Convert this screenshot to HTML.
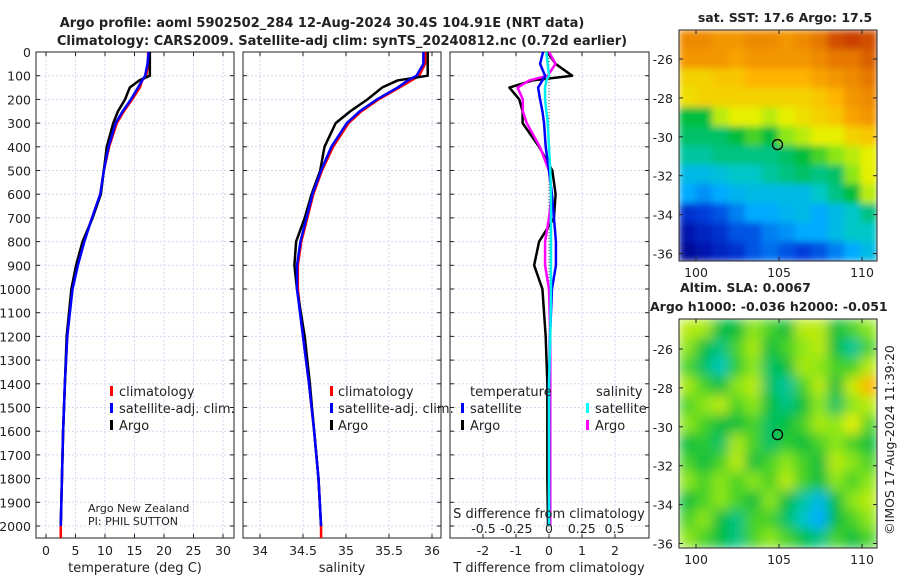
<!DOCTYPE html>
<html><head><meta charset="utf-8"><style>
body{margin:0;background:#fff;width:900px;height:580px;overflow:hidden;font-family:"Liberation Sans","DejaVu Sans",sans-serif}
svg text{font-family:"DejaVu Sans","Liberation Sans",sans-serif;fill:#222}
</style></head><body>
<svg id="fig" width="900" height="580" viewBox="0 0 900 580" xmlns="http://www.w3.org/2000/svg">
<defs>
<filter id="blur1" x="-5%" y="-5%" width="110%" height="110%"><feGaussianBlur stdDeviation="3.5" edgeMode="duplicate"/></filter>
<filter id="blur2" x="-5%" y="-5%" width="110%" height="110%"><feGaussianBlur stdDeviation="6" edgeMode="duplicate"/></filter>
<clipPath id="clip1"><rect x="679" y="30" width="198" height="231"/></clipPath>
<clipPath id="clip2"><rect x="679" y="319" width="198" height="229"/></clipPath>
</defs>
<text x="322" y="27" font-size="13" font-weight="bold" text-anchor="middle">Argo profile: aoml 5902502_284 12-Aug-2024 30.4S 104.91E (NRT data)</text>
<text x="342" y="45" font-size="13" font-weight="bold" text-anchor="middle">Climatology: CARS2009. Satellite-adj clim: synTS_20240812.nc (0.72d earlier)</text>
<g id="g"></g>
</svg>
<script>
const depths=[0,50,100,120,150,200,250,300,400,500,600,700,800,900,1000,1200,1400,1600,1800,2000];
const tClim=[17.3,17.3,17.0,16.3,15.9,14.6,13.2,12.0,10.7,9.8,9.2,7.8,6.4,5.3,4.4,3.6,3.2,2.9,2.7,2.5];
const tSat=[17.4,17.2,16.8,16.3,15.6,14.4,13.0,11.8,10.6,9.8,9.2,7.8,6.5,5.4,4.5,3.6,3.2,2.9,2.7,2.5];
const tArgo=[17.6,17.6,17.6,15.8,14.2,13.4,12.2,11.4,10.3,9.8,9.3,7.9,6.2,5.1,4.3,3.5,3.2,2.9,2.7,2.5];
const sClim=[35.92,35.92,35.85,35.76,35.62,35.38,35.18,35.03,34.85,34.72,34.62,34.55,34.48,34.44,34.44,34.5,34.57,34.63,34.68,34.71];
const sSat=[35.9,35.9,35.82,35.72,35.6,35.36,35.16,35.01,34.83,34.71,34.61,34.54,34.47,34.43,34.43,34.5,34.57,34.63,34.68,34.71];
const sArgo=[35.95,35.95,35.95,35.6,35.42,35.25,35.05,34.88,34.75,34.7,34.6,34.52,34.42,34.4,34.43,34.52,34.58,34.63,34.68,34.71];
const dTargo=[-0.05,0.2,0.7,-0.5,-1.2,-0.9,-0.8,-0.8,-0.3,0.1,0.2,0.15,-0.3,-0.45,-0.2,-0.1,-0.05,-0.05,-0.05,-0.03];
const dTsat=[-0.18,-0.27,-0.12,-0.2,-0.33,-0.27,-0.2,-0.15,-0.1,0.0,0.09,0.15,0.21,0.21,0.09,0.03,0.0,0.0,0.0,0.0];
const dSargo=[0.0,0.05,-0.01,-0.15,-0.24,-0.2,-0.2,-0.17,-0.07,0.0,0.02,0.0,-0.03,-0.03,0.0,0.01,0.01,0.01,0.01,0.01];
const dSsat=[-0.02,-0.01,0.0,-0.02,-0.03,-0.03,-0.02,-0.01,0.0,0.01,0.015,0.015,0.015,0.015,0.015,0.01,0.0,0.0,0.0,0.0];
const yTicks=[0,100,200,300,400,500,600,700,800,900,1000,1100,1200,1300,1400,1500,1600,1700,1800,1900,2000];
const tTicks=[0,5,10,15,20,25,30];
const sTicks=[34,34.5,35,35.5,36];
const dTTicks=[-2,-1,0,1,2];
const dSTicks=[-0.5,-0.25,0,0.25,0.5];
const sstGrid=[
[.82,.82,.8,.8,.82,.82,.8,.82,.85,.9,.92,.9],
[.8,.8,.8,.78,.8,.8,.8,.8,.82,.85,.85,.88],
[.7,.7,.72,.72,.75,.75,.75,.75,.78,.8,.82,.85],
[.68,.7,.7,.7,.7,.7,.7,.7,.72,.75,.8,.82],
[.45,.45,.6,.65,.65,.6,.65,.68,.7,.72,.78,.8],
[.42,.42,.42,.45,.5,.45,.55,.6,.65,.65,.7,.72],
[.38,.38,.4,.4,.4,.4,.42,.45,.5,.55,.6,.65],
[.3,.3,.32,.35,.35,.38,.4,.42,.4,.42,.55,.65],
[.25,.22,.25,.28,.3,.3,.3,.3,.35,.4,.45,.6],
[.1,.12,.15,.2,.25,.25,.28,.3,.25,.3,.35,.4],
[.05,.08,.1,.15,.15,.2,.22,.25,.25,.3,.35,.35],
[.02,.05,.08,.1,.15,.18,.15,.12,.15,.2,.25,.3]];
const slaGrid=[
[.6,.58,.45,.45,.55,.5,.45,.6,.6,.45,.5,.55],
[.55,.45,.4,.5,.58,.45,.5,.55,.6,.45,.38,.5],
[.5,.42,.36,.48,.55,.42,.45,.58,.55,.5,.5,.6],
[.58,.5,.45,.55,.6,.42,.38,.5,.6,.45,.62,.75],
[.5,.55,.6,.5,.55,.45,.4,.45,.55,.42,.55,.6],
[.55,.5,.45,.45,.5,.42,.45,.5,.58,.55,.65,.5],
[.45,.48,.42,.58,.5,.42,.48,.45,.5,.55,.5,.45],
[.5,.45,.5,.6,.45,.5,.55,.5,.45,.6,.55,.5],
[.55,.5,.55,.5,.55,.5,.6,.5,.45,.55,.5,.55],
[.45,.5,.55,.5,.45,.55,.45,.38,.3,.45,.55,.6],
[.5,.55,.45,.4,.5,.5,.42,.35,.25,.45,.5,.55],
[.55,.5,.45,.4,.5,.55,.5,.45,.4,.5,.45,.5]];
const lonTicks=[100,105,110];
const latTicks=[-26,-28,-30,-32,-34,-36];

const NS="http://www.w3.org/2000/svg";
const G=document.getElementById('g');
function mk(tag,at,parent){const e=document.createElementNS(NS,tag);for(const k in at)e.setAttribute(k,at[k]);(parent||G).appendChild(e);return e;}
function txt(s,x,y,size,anchor,parent){const t=mk('text',{x:x,y:y,'font-size':size,'text-anchor':anchor||'middle'},parent);t.textContent=s;return t;}
const Y0=52,Y1=538;
const yS=d=>52+d*0.237;

function panel(name,x0,x1,xs,xticks){
  const g=mk('g',{});
  
  
  xticks.forEach(v=>mk('line',{x1:xs(v),x2:xs(v),y1:Y0,y2:Y1,stroke:'#d3d8f2','stroke-width':1,'stroke-dasharray':'2,2'},g));
  yTicks.forEach(v=>mk('line',{x1:x0,x2:x1,y1:yS(v),y2:yS(v),stroke:'#d3d8f2','stroke-width':1,'stroke-dasharray':'2,2'},g));
  mk('rect',{x:x0,y:Y0,width:x1-x0,height:Y1-Y0,fill:'none',stroke:'#222','stroke-width':1},g);
  yTicks.forEach(v=>{mk('line',{x1:x0,x2:x0+4,y1:yS(v),y2:yS(v),stroke:'#222'},g);mk('line',{x1:x1-4,x2:x1,y1:yS(v),y2:yS(v),stroke:'#222'},g);});
  xticks.forEach(v=>{mk('line',{x1:xs(v),x2:xs(v),y1:Y1,y2:Y1-4,stroke:'#222'},g);mk('line',{x1:xs(v),x2:xs(v),y1:Y0,y2:Y0+4,stroke:'#222'},g);});
  return g;
}
function line(g,name,xs,vals,color,w){
  const p=mk('polyline',{points:vals.map((v,i)=>xs(v)+','+yS(depths[i])).join(' '),fill:'none',stroke:color,'stroke-width':w||2.5,'stroke-linejoin':'round'},g);
  
  
  return p;
}
const xT=v=>46+v*5.9;
const g1=panel('temperature-panel',36,234,xT,tTicks);
tTicks.forEach(v=>txt(String(v),xT(v),555,12.5,'middle',g1));
yTicks.forEach(v=>txt(String(v),31,yS(v)+5,12.5,'end',g1));
txt('temperature (deg C)',135,572,13,'middle',g1);
line(g1,'temperature-climatology-line',xT,tClim,'#f00');
mk('line',{x1:xT(2.5),x2:xT(2.5),y1:yS(2000),y2:Y1,stroke:'#f00','stroke-width':2.5},g1);
line(g1,'temperature-argo-line',xT,tArgo,'#000');
line(g1,'temperature-satellite-line',xT,tSat,'#00f');
[['#f00','climatology',391],['#00f','satellite-adj. clim.',408],['#000','Argo',425]].forEach(l=>{const r=mk('rect',{x:110,y:l[2]-5,width:3,height:10,fill:l[0]},g1);txt(l[1],119,l[2]+5,13,'start',g1);});
txt('Argo New Zealand',88,512,11,'start',g1);
txt('PI: PHIL SUTTON',88,525,11,'start',g1);
const xSa=v=>260+(v-34)*86;
const g2=panel('salinity-panel',243,441,xSa,sTicks);
sTicks.forEach(v=>txt(String(v),xSa(v),555,12.5,'middle',g2));
txt('salinity',342,572,13,'middle',g2);
line(g2,'salinity-climatology-line',xSa,sClim,'#f00');
mk('line',{x1:xSa(34.71),x2:xSa(34.71),y1:yS(2000),y2:Y1,stroke:'#f00','stroke-width':2.5},g2);
line(g2,'salinity-argo-line',xSa,sArgo,'#000');
line(g2,'salinity-satellite-line',xSa,sSat,'#00f');
[['#f00','climatology',391],['#00f','satellite-adj. clim.',408],['#000','Argo',425]].forEach(l=>{const r=mk('rect',{x:330,y:l[2]-5,width:3,height:10,fill:l[0]},g2);txt(l[1],338,l[2]+5,13,'start',g2);});
const xdT=v=>549+v*33;
const xdS=v=>549+v*131;
const g3=panel('difference-panel',450,649,xdT,dTTicks);
dTTicks.forEach(v=>txt(String(v),xdT(v),555,12.5,'middle',g3));
txt('T difference from climatology',549,572,13,'middle',g3);
mk('line',{x1:xdT(0),x2:xdT(0),y1:Y0,y2:Y1,stroke:'#555','stroke-width':1,'stroke-dasharray':'1,2'},g3);
line(g3,'t-diff-argo-line',xdT,dTargo,'#000');
line(g3,'s-diff-argo-line',xdS,dSargo,'#f0f');
line(g3,'t-diff-satellite-line',xdT,dTsat,'#00f');
line(g3,'s-diff-satellite-line',xdS,dSsat,'#0ee');
txt('S difference from climatology',549,518,13,'middle',g3);
dSTicks.forEach(v=>txt(String(v),xdS(v),533,12.5,'middle',g3));
txt('temperature',470,396,13,'start',g3);
txt('salinity',596,396,13,'start',g3);
[['#00f','satellite',461,408],['#000','Argo',461,425],['#0ff','satellite',586,408],['#f0f','Argo',586,425]].forEach(l=>{const r=mk('rect',{x:l[2],y:l[3]-5,width:3,height:10,fill:l[0]},g3);txt(l[1],l[2]+9,l[3]+5,13,'start',g3);});

function cmap(v){
  const stops=[[0,[0,0,140]],[0.12,[0,60,220]],[0.25,[0,170,255]],[0.35,[0,200,200]],[0.45,[0,190,60]],[0.55,[140,230,20]],[0.65,[230,240,0]],[0.75,[255,180,0]],[0.85,[230,120,0]],[1,[170,0,0]]];
  for(let i=1;i<stops.length;i++){if(v<=stops[i][0]){const a=stops[i-1],b=stops[i],t=(v-a[0])/(b[0]-a[0]);return 'rgb('+a[1].map((c,k)=>Math.round(c+(b[1][k]-c)*t)).join(',')+')';}}
  return 'rgb(170,0,0)';
}
function map(name,grid,y0,y1,lat26,filt,clip){
  const x0=679,x1=877;
  const g=mk('g',{});
  
  
  const cg=mk('g',{'clip-path':'url(#'+clip+')'},g);
  const fg=mk('g',{filter:'url(#'+filt+')'},cg);
  const rows=grid.length,cols=grid[0].length,cw=(x1-x0)/cols,ch=(y1-y0)/rows;
  grid.forEach((r,i)=>r.forEach((v,j)=>mk('rect',{x:x0+j*cw,y:y0+i*ch,width:cw+0.5,height:ch+0.5,fill:cmap(v)},fg)));
  mk('rect',{x:x0,y:y0,width:x1-x0,height:y1-y0,fill:'none',stroke:'#222'},g);
  const lx=v=>696+(v-100)*16.6, ly=v=>lat26+(-26-v)*19.45;
  lonTicks.forEach(v=>{mk('line',{x1:lx(v),x2:lx(v),y1:y1,y2:y1-4,stroke:'#222'},g);mk('line',{x1:lx(v),x2:lx(v),y1:y0,y2:y0+4,stroke:'#222'},g);txt(String(v),lx(v),y1+16,12.5,'middle',g);});
  latTicks.forEach(v=>{mk('line',{x1:x0,x2:x0+4,y1:ly(v),y2:ly(v),stroke:'#222'},g);mk('line',{x1:x1-4,x2:x1,y1:ly(v),y2:ly(v),stroke:'#222'},g);txt(String(v),x0-6,ly(v)+5,12.5,'end',g);});
  const c=mk('circle',{cx:lx(104.91),cy:ly(-30.4),r:5,fill:'none',stroke:'#000','stroke-width':1.3},g);
  
  
  return g;
}
map('sst-map',sstGrid,30,261,59,'blur1','clip1');
txt('sat. SST: 17.6 Argo: 17.5',785,22,12.5,'middle').setAttribute('font-weight','bold');
map('sla-map',slaGrid,319,548,349,'blur2','clip2');
const a1=txt('Altim. SLA: 0.0067',680,292,12.5,'start');a1.setAttribute('font-weight','bold');
const a2=txt('Argo h1000: -0.036 h2000: -0.051',650,311,12.5,'start');a2.setAttribute('font-weight','bold');
const cp=txt('©IMOS 17-Aug-2024 11:39:20',0,0,12.5,'middle');
cp.setAttribute('transform','translate(894,440) rotate(-90)');


</script>
</body></html>
